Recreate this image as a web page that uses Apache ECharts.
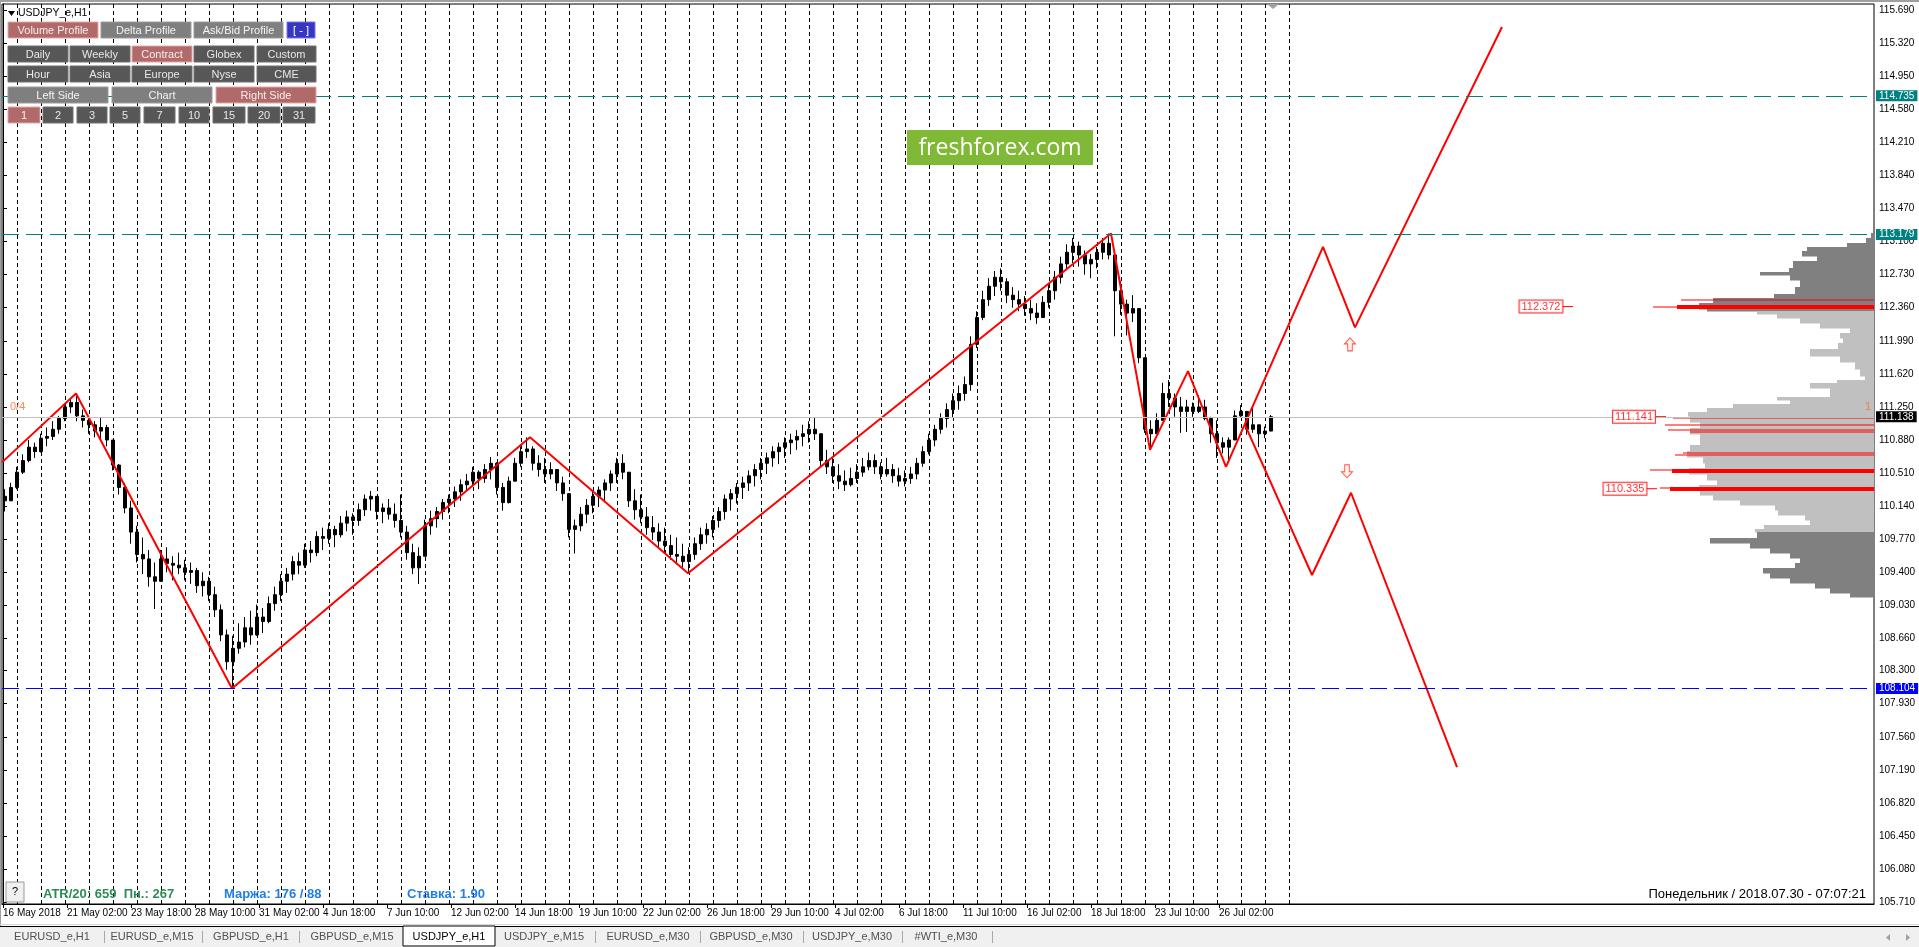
<!DOCTYPE html>
<html><head><meta charset="utf-8">
<script src="https://cdn.jsdelivr.net/npm/echarts@6/dist/echarts.min.js"></script>
<style>html,body{margin:0;padding:0;background:#fff;overflow:hidden}#c{width:1919px;height:947px}</style>
</head><body><div id="c"></div><script>
// ---------- DATA (USDJPY_e, H1, candles grouped by 6 bars) ----------
const firstOpen = 110.25;
const candleHigh = [
110.33,110.40,110.58,110.72,110.88,110.85,110.95,111.02,111.09,111.15,
111.29,111.35,111.40,111.22,111.15,111.09,111.13,111.05,110.88,110.61,
110.40,110.20,109.92,109.79,109.65,109.51,109.65,109.68,109.58,109.62,
109.54,109.51,109.45,109.40,109.35,109.24,109.04,108.76,108.69,108.83,
108.90,108.97,109.04,109.00,109.13,109.24,109.38,109.45,109.58,109.62,
109.72,109.75,109.86,109.90,109.95,109.92,110.03,110.09,110.06,110.17,
110.27,110.31,110.20,110.17,110.22,110.17,110.27,109.92,109.72,109.68,
109.99,110.09,110.13,110.22,110.27,110.36,110.44,110.50,110.58,110.54,
110.61,110.69,110.63,110.40,110.47,110.68,110.81,110.91,110.81,110.71,
110.68,110.63,110.54,110.47,110.27,109.99,110.13,110.22,110.31,110.36,
110.44,110.54,110.68,110.72,110.47,110.33,110.27,110.13,110.03,109.95,
109.90,109.82,109.79,109.72,109.68,109.79,109.90,109.95,110.03,110.13,
110.27,110.33,110.40,110.47,110.54,110.61,110.68,110.74,110.81,110.85,
110.91,110.95,110.99,111.05,111.09,111.13,110.88,110.77,110.68,110.61,
110.54,110.57,110.61,110.68,110.74,110.72,110.63,110.68,110.61,110.57,
110.54,110.58,110.68,110.81,110.95,111.05,111.18,111.29,111.40,111.49,
111.59,112.04,112.32,112.55,112.69,112.77,112.80,112.69,112.59,112.55,
112.49,112.45,112.41,112.49,112.63,112.77,112.93,113.07,113.14,113.10,
113.00,112.96,113.04,113.14,113.19,112.93,112.66,112.45,112.50,112.30,
111.80,111.10,111.18,111.52,111.55,111.40,111.36,111.33,111.30,111.38,
111.33,111.14,111.10,110.91,110.91,111.21,111.27,111.16,111.24,111.05,
111.03,111.16];
const candleLow = [
110.08,110.20,110.33,110.50,110.63,110.68,110.74,110.81,110.88,110.95,
111.09,111.18,111.09,111.02,110.95,110.91,110.88,110.81,110.54,110.27,
110.06,109.72,109.51,109.38,109.24,108.99,109.38,109.40,109.31,109.38,
109.31,109.27,109.17,109.13,109.08,108.90,108.63,108.31,108.10,108.49,
108.56,108.59,108.69,108.72,108.83,108.97,109.08,109.17,109.31,109.38,
109.45,109.51,109.58,109.65,109.72,109.68,109.79,109.86,109.82,109.92,
110.03,110.09,109.99,109.95,109.99,109.90,109.79,109.54,109.38,109.27,
109.65,109.82,109.90,109.99,110.06,110.13,110.20,110.31,110.36,110.33,
110.40,110.44,110.27,110.09,110.17,110.44,110.58,110.68,110.54,110.47,
110.40,110.44,110.31,110.20,109.79,109.61,109.86,109.95,110.06,110.13,
110.20,110.31,110.40,110.44,110.13,109.99,109.95,109.82,109.76,109.68,
109.62,109.54,109.49,109.45,109.39,109.54,109.65,109.72,109.79,109.90,
109.99,110.09,110.17,110.22,110.31,110.36,110.44,110.50,110.58,110.61,
110.68,110.72,110.77,110.81,110.85,110.88,110.58,110.50,110.40,110.33,
110.31,110.36,110.40,110.47,110.54,110.50,110.44,110.47,110.40,110.36,
110.36,110.39,110.44,110.58,110.72,110.81,110.95,111.02,111.13,111.22,
111.32,111.43,111.91,112.22,112.38,112.49,112.55,112.41,112.36,112.32,
112.27,112.22,112.18,112.25,112.36,112.45,112.63,112.80,112.86,112.82,
112.73,112.69,112.80,112.90,112.90,112.04,112.28,112.05,112.20,111.74,
110.96,110.77,110.99,111.10,111.25,111.14,110.96,110.97,111.14,111.18,
111.10,110.85,110.68,110.73,110.63,110.88,111.14,110.94,110.96,110.80,
110.90,110.99];
const candleClose = [
110.20,110.35,110.52,110.65,110.80,110.75,110.90,110.92,111.00,111.12,
111.25,111.30,111.15,111.10,111.05,110.98,111.02,110.88,110.60,110.35,
110.12,109.85,109.60,109.55,109.35,109.30,109.55,109.50,109.48,109.45,
109.40,109.42,109.25,109.30,109.15,108.98,108.70,108.40,108.55,108.62,
108.78,108.70,108.90,108.85,109.05,109.15,109.30,109.38,109.52,109.48,
109.65,109.62,109.80,109.78,109.88,109.82,109.95,110.02,109.98,110.10,
110.22,110.25,110.08,110.12,110.05,109.98,109.85,109.62,109.45,109.58,
109.92,110.00,110.08,110.18,110.22,110.30,110.38,110.42,110.52,110.45,
110.55,110.62,110.35,110.18,110.42,110.62,110.75,110.78,110.62,110.55,
110.50,110.55,110.40,110.28,109.88,109.92,110.05,110.15,110.25,110.32,
110.40,110.50,110.62,110.52,110.20,110.10,110.02,109.90,109.85,109.75,
109.70,109.60,109.58,109.52,109.60,109.72,109.82,109.88,109.98,110.08,
110.22,110.28,110.35,110.40,110.48,110.55,110.62,110.68,110.75,110.80,
110.85,110.88,110.92,110.95,111.00,110.95,110.65,110.58,110.48,110.42,
110.38,110.45,110.52,110.58,110.65,110.58,110.50,110.55,110.48,110.42,
110.45,110.50,110.62,110.75,110.88,111.00,111.12,111.22,111.32,111.40,
111.50,111.95,112.25,112.45,112.60,112.70,112.65,112.50,112.45,112.40,
112.35,112.30,112.25,112.42,112.55,112.70,112.85,112.98,113.05,112.95,
112.85,112.90,112.98,113.08,112.95,112.55,112.40,112.30,112.35,111.80,
111.00,110.95,111.10,111.40,111.35,111.25,111.20,111.25,111.20,111.25,
111.12,110.95,110.85,110.80,110.88,111.15,111.20,111.00,111.05,110.95,
110.98,111.14];

const zigzagBars   = [-1, 73, 229, 527, 685, 1108, 1147, 1185, 1223];
const zigzagPrices = [110.63, 111.40, 108.10, 110.91, 109.39, 113.19, 110.77, 111.65, 110.58];
const projUpBars   = [1223, 1320, 1352, 1499];
const projUpPrices = [110.58, 113.04, 112.14, 115.50];
const projDownBars   = [1242, 1309, 1348, 1454];
const projDownPrices = [111.05, 109.37, 110.29, 107.22];
const arrowUp   = [[1347, 111.95]];
const arrowDown = [[1344, 110.53]];

const dayStartBars = [14,38,62,86,110,134,158,182,206,230,254,278,302,326,350,374,398,422,446,470,
494,518,542,566,590,614,638,662,686,710,734,758,782,806,830,854,878,902,926,950,974,998,1022,1046,
1070,1094,1118,1142,1166,1190,1214,1238,1262,1286];

const xLabelBars = [0,64,128,192,256,320,384,448,512,576,640,704,768,832,896,960,1024,1088,1152,1216];
const xLabels = ["16 May 2018","21 May 02:00","23 May 18:00","28 May 10:00","31 May 02:00","4 Jun 18:00",
"7 Jun 10:00","12 Jun 02:00","14 Jun 18:00","19 Jun 10:00","22 Jun 02:00","26 Jun 18:00","29 Jun 10:00",
"4 Jul 02:00","6 Jul 18:00","11 Jul 10:00","16 Jul 02:00","18 Jul 18:00","23 Jul 10:00","26 Jul 02:00"];
const yTicks = [115.69,115.32,114.95,114.58,114.21,113.84,113.47,113.10,112.73,112.36,111.99,111.62,
111.25,110.88,110.51,110.14,109.77,109.40,109.03,108.66,108.30,107.93,107.56,107.19,106.82,106.45,106.08,105.71];

const levelHigh1 = 114.735, levelHigh2 = 113.179, levelLow = 108.104, bidPrice = 111.138;

// volume profile: row boundaries (prices) and row volumes
const profileLevels = [113.196,113.140,113.084,113.039,112.994,112.938,112.882,112.804,112.759,112.726,
112.670,112.592,112.513,112.469,112.413,112.346,112.323,112.290,112.245,112.189,112.133,112.077,112.021,
111.965,111.898,111.820,111.753,111.674,111.596,111.551,111.518,111.462,111.406,111.361,111.328,111.283,
111.238,111.193,111.149,111.082,111.014,110.947,110.880,110.824,110.757,110.690,110.623,110.567,110.500,
110.433,110.377,110.321,110.265,110.209,110.153,110.097,110.041,109.985,109.929,109.885,109.851,109.784,
109.728,109.672,109.616,109.560,109.504,109.448,109.392,109.337,109.281,109.225,109.169,109.124];
const profileVolumes = [3,8,27,67,72,57,81,85,114,84,74,79,100,161,175,167,117,97,74,54,24,34,31,36,64,
34,19,14,9,37,64,44,44,97,84,141,167,186,184,174,184,174,174,184,187,171,169,185,167,157,175,174,161,
134,99,96,69,64,110,119,117,164,124,104,84,74,79,111,104,84,59,44,24];
const valueAreaHigh = 112.33, valueAreaLow = 109.85;
const hvnThinPrices  = [112.446,112.372,111.126,111.048,110.992,110.970,110.735,110.710,110.540,110.345];
const hvnThinVolumes = [193,221,201,209,206,184,191,199,224,214];
const hvnThickPrices  = [112.372,110.530,110.335];
const hvnThickVolumes = [197,202,204];
const profileLabels = [112.372, 111.141, 110.335];

// ---------- CHART ----------
const FONT = '"Liberation Sans", Arial, sans-serif';
const slotCount = 312;
const slotNames = Array.from({length: slotCount}, (_, i) => 'S' + i);
const candles = candleClose.map((c, j) => [j === 0 ? firstOpen : candleClose[j-1], c, candleLow[j], candleHigh[j]]);
const zip = (a, b) => a.map((v, i) => [v, b[i]]);
const profileRows = profileVolumes.map((v, i) => [profileLevels[i], profileLevels[i+1], v]);

const chart = echarts.init(document.getElementById('c'), null, {renderer: 'canvas'});

function hvnRender(h) {
  return function(params, api) {
    const p = api.value(0), w = api.value(1);
    const a = api.coord([0, p]), b = api.coord([w, p]);
    return {type: 'rect', shape: {x: b[0], y: Math.round(a[1]) - h / 2, width: a[0] - b[0], height: h},
            style: {fill: '#ff0000'}};
  };
}

function btn(x, y, w, h, text, kind) {
  const st = {
    red:  {fill: '#b06a6a', stroke: '#e6a6a6', text: '#fbecec'},
    gray: {fill: '#7f7f7f', stroke: '#9c9c9c', text: '#f4f4f4'},
    dark: {fill: '#575757', stroke: '#707070', text: '#e8e8e8'},
    blue: {fill: '#3636c2', stroke: '#7474ff', text: '#ffffff'}
  }[kind];
  return [
    {type: 'rect', z: 100, shape: {x: x, y: y, width: w, height: h}, style: {fill: st.fill, stroke: st.stroke, lineWidth: 1}},
    {type: 'text', z: 101, style: {text: text, x: x + w / 2, y: y + h / 2 + 0.5, fill: st.text, font: '11px ' + FONT,
      textAlign: 'center', textVerticalAlign: 'middle'}}
  ];
}

const g = [];
// window frame
g.push({type: 'rect', z: 90, shape: {x: 0, y: 0, width: 1919, height: 2}, style: {fill: '#a0a0a0'}});
g.push({type: 'rect', z: 90, shape: {x: 0, y: 0, width: 1, height: 927}, style: {fill: '#a0a0a0'}});
g.push({type: 'polygon', z: 90, shape: {points: [[1267, 4], [1279, 4], [1273, 9]]}, style: {fill: '#a0a0a0'}});
// header
g.push({type: 'polygon', z: 100, shape: {points: [[8, 11], [15, 11], [11.5, 16]]}, style: {fill: '#000'}});
g.push({type: 'text', z: 100, style: {text: 'USDJPY_e,H1', x: 18, y: 13.5, fill: '#000', font: '10.5px ' + FONT, textVerticalAlign: 'middle'}});
// buttons
[[8,90,'Volume Profile','red'],[101,90,'Delta Profile','gray'],[194,89,'Ask/Bid Profile','gray'],[287,28,'[ - ]','blue']]
  .forEach(b => g.push(...btn(b[0], 22, b[1], 16, b[2], b[3])));
const colX = [[8,60],[70,60],[132,60],[194,60],[257,59]];
['Daily','Weekly','Contract','Globex','Custom'].forEach((t, i) => g.push(...btn(colX[i][0], 46, colX[i][1], 16, t, t === 'Contract' ? 'red' : 'dark')));
['Hour','Asia','Europe','Nyse','CME'].forEach((t, i) => g.push(...btn(colX[i][0], 66, colX[i][1], 16, t, 'dark')));
[[8,100,'Left Side','gray'],[112,100,'Chart','gray'],[216,100,'Right Side','red']].forEach(b => g.push(...btn(b[0], 87, b[1], 16, b[2], b[3])));
[[8,32,'1'],[43,30,'2'],[77,30,'3'],[110,30,'5'],[144,31,'7'],[179,30,'10'],[213,32,'15'],[248,32,'20'],[283,32,'31']]
  .forEach(b => g.push(...btn(b[0], 107, b[1], 16, b[2], b[2] === '1' ? 'red' : 'dark')));
// logo
g.push({type: 'rect', z: 100, shape: {x: 907, y: 130, width: 186, height: 35}, style: {fill: '#80b935'}});
g.push({type: 'text', z: 101, style: {text: 'freshforex.com', x: 1000, y: 148, fill: '#fff', font: '23px "Open Sans", sans-serif', textAlign: 'center', textVerticalAlign: 'middle'}});
// bottom info texts
g.push({type: 'rect', z: 100, shape: {x: 6, y: 882, width: 18, height: 20}, style: {fill: '#f0f0f0', stroke: '#9a9a9a', lineWidth: 1}});
g.push({type: 'text', z: 101, style: {text: '?', x: 15, y: 892, fill: '#000', font: '11px ' + FONT, textAlign: 'center', textVerticalAlign: 'middle'}});
g.push({type: 'text', z: 100, style: {text: 'ATR/20: 659  Пн.: 267', x: 43, y: 894, fill: '#2e8b57', font: 'bold 13px ' + FONT, textVerticalAlign: 'middle'}});
g.push({type: 'text', z: 100, style: {text: 'Маржа: 176 / 88', x: 224, y: 894, fill: '#1f7fe6', font: 'bold 13px ' + FONT, textVerticalAlign: 'middle'}});
g.push({type: 'text', z: 100, style: {text: 'Ставка: 1.90', x: 407, y: 894, fill: '#1f7fe6', font: 'bold 13px ' + FONT, textVerticalAlign: 'middle'}});
g.push({type: 'text', z: 100, style: {text: 'Понедельник / 2018.07.30 - 07:07:21', x: 1866, y: 894, fill: '#000', font: '13px ' + FONT, textAlign: 'right', textVerticalAlign: 'middle'}});
// tab bar
g.push({type: 'rect', z: 90, shape: {x: 0, y: 924, width: 1919, height: 1}, style: {fill: '#d6d6d6'}});
g.push({type: 'rect', z: 90, shape: {x: 0, y: 927, width: 1919, height: 20}, style: {fill: '#f0f0f0'}});
g.push({type: 'rect', z: 91, shape: {x: 0, y: 926, width: 1919, height: 1}, style: {fill: '#000'}});
g.push({type: 'rect', z: 92, shape: {x: 403, y: 926, width: 92, height: 20}, style: {fill: '#fff', stroke: '#000', lineWidth: 1}});
[[52,'EURUSD_e,H1'],[152,'EURUSD_e,M15'],[251,'GBPUSD_e,H1'],[352,'GBPUSD_e,M15'],[449,'USDJPY_e,H1'],
 [544,'USDJPY_e,M15'],[648,'EURUSD_e,M30'],[751,'GBPUSD_e,M30'],[852,'USDJPY_e,M30'],[946,'#WTI_e,M30']]
  .forEach(t => g.push({type: 'text', z: 95, style: {text: t[1], x: t[0], y: 937, fill: t[1] === 'USDJPY_e,H1' ? '#000' : '#505050',
    font: '11px ' + FONT, textAlign: 'center', textVerticalAlign: 'middle'}}));
[104,202,299,595,700,803,902,992].forEach(x => g.push({type: 'rect', z: 95, shape: {x: x, y: 931, width: 1, height: 12}, style: {fill: '#a8a8a8'}}));
g.push({type: 'polygon', z: 95, shape: {points: [[1890, 934], [1890, 941], [1886, 937.5]]}, style: {fill: '#a0a0a0'}});
g.push({type: 'polygon', z: 95, shape: {points: [[1906, 934], [1906, 941], [1910, 937.5]]}, style: {fill: '#a0a0a0'}});

const lvlLabel = (txt, bg) => ({show: true, position: 'end', distance: 2, formatter: txt, color: '#fff', backgroundColor: bg,
  padding: [1, 3, 0, 3], fontSize: 10, fontFamily: FONT});

const option = {
  animation: false,
  backgroundColor: '#fff',
  grid: {left: 2, top: 4, right: 45, bottom: 43, show: true, borderColor: '#000', borderWidth: 1, backgroundColor: '#fff'},
  xAxis: [
    {type: 'category', data: slotNames, show: false, position: 'bottom', boundaryGap: true},
    {type: 'value', min: -1, max: 1871, position: 'bottom',
     axisLine: {show: true, lineStyle: {color: '#000'}},
     axisTick: {show: true, customValues: xLabelBars, length: 4, lineStyle: {color: '#000'}},
     axisLabel: {customValues: xLabelBars, formatter: v => xLabels[xLabelBars.indexOf(v)] || '', align: 'left',
       fontSize: 10, fontFamily: FONT, color: '#000', margin: 4},
     splitLine: {show: false}},
    {type: 'value', min: 0, max: 1872, inverse: true, show: false, position: 'top'}
  ],
  yAxis: [{type: 'value', position: 'right', min: 105.69, max: 115.757,
    axisLine: {show: true, lineStyle: {color: '#000'}},
    axisTick: {show: true, customValues: yTicks, length: 4, lineStyle: {color: '#000'}},
    axisLabel: {customValues: yTicks, formatter: v => Number(v).toFixed(3), fontSize: 10, fontFamily: FONT, color: '#000', margin: 5},
    splitLine: {show: false}}],
  graphic: g,
  series: [
    {type: 'custom', name: 'days', xAxisIndex: 1, yAxisIndex: 0, z: 1, silent: true,
     data: dayStartBars.map(b => [b]), encode: {x: 0},
     renderItem: (params, api) => {
       const p = api.coord([api.value(0), 110]);
       const cs = params.coordSys;
       const x = Math.round(p[0]) + 0.5;
       return {type: 'line', shape: {x1: x, y1: cs.y, x2: x, y2: cs.y + cs.height},
               style: {stroke: '#000', lineWidth: 1, lineDash: [4, 3]}};
     }},
    {type: 'line', name: 'bid', xAxisIndex: 1, yAxisIndex: 0, z: 1, silent: true, symbol: 'none',
     data: [[1269, bidPrice]], lineStyle: {width: 0},
     markLine: {silent: true, symbol: ['none', 'none'], animation: false,
       data: [
         {yAxis: bidPrice, lineStyle: {color: '#c0c0c0', type: 'solid', width: 1}, label: lvlLabel('111.138', '#000')},
         {yAxis: levelHigh1, lineStyle: {color: '#008080', type: [17, 7], width: 1}, label: lvlLabel('114.735', '#008080')},
         {yAxis: levelHigh2, lineStyle: {color: '#008080', type: [17, 7], width: 1}, label: lvlLabel('113.179', '#008080')},
         {yAxis: levelLow, lineStyle: {color: '#0000ff', type: [17, 7], width: 1}, label: lvlLabel('108.104', '#0000ff')}
       ]}},
    {type: 'custom', name: 'profile', xAxisIndex: 2, yAxisIndex: 0, z: 2, silent: true,
     data: profileRows, encode: {x: 2, y: [0, 1]},
     renderItem: (params, api) => {
       const top = api.value(0), bot = api.value(1), w = api.value(2);
       const a = api.coord([0, top]), b = api.coord([w, bot]);
       const mid = (top + bot) / 2;
       const fill = (mid > valueAreaHigh || mid < valueAreaLow) ? '#808080' : '#c0c0c0';
       return {type: 'rect', shape: {x: b[0], y: a[1], width: a[0] - b[0], height: b[1] - a[1] + 0.5}, style: {fill: fill}};
     }},
    {type: 'custom', name: 'hvnThin', xAxisIndex: 2, yAxisIndex: 0, z: 3, silent: true,
     data: zip(hvnThinPrices, hvnThinVolumes), encode: {x: 1, y: 0}, renderItem: hvnRender(1)},
    {type: 'custom', name: 'hvnThick', xAxisIndex: 2, yAxisIndex: 0, z: 3, silent: true,
     data: zip(hvnThickPrices, hvnThickVolumes), encode: {x: 1, y: 0}, renderItem: hvnRender(4)},
    {type: 'candlestick', name: 'USDJPY', xAxisIndex: 0, yAxisIndex: 0, z: 3, data: candles, barWidth: 4,
     itemStyle: {color: '#000', color0: '#000', borderColor: '#000', borderColor0: '#000', borderWidth: 1}},
    {type: 'line', name: 'zigzag', xAxisIndex: 1, yAxisIndex: 0, z: 4, symbol: 'none', silent: true,
     data: zip(zigzagBars, zigzagPrices), lineStyle: {color: '#ff0000', width: 2}},
    {type: 'line', name: 'projUp', xAxisIndex: 1, yAxisIndex: 0, z: 4, symbol: 'none', silent: true,
     data: zip(projUpBars, projUpPrices), lineStyle: {color: '#ff0000', width: 2}},
    {type: 'line', name: 'projDown', xAxisIndex: 1, yAxisIndex: 0, z: 4, symbol: 'none', silent: true,
     data: zip(projDownBars, projDownPrices), lineStyle: {color: '#ff0000', width: 2}},
    {type: 'scatter', name: 'up', xAxisIndex: 1, yAxisIndex: 0, z: 5, silent: true, data: arrowUp,
     symbol: 'path://M6,0 L12,6 L8.5,6 L8.5,13 L3.5,13 L3.5,6 L0,6 Z', symbolSize: [11, 13],
     itemStyle: {color: '#fff0e0', borderColor: '#ff2a2a', borderWidth: 1}},
    {type: 'scatter', name: 'down', xAxisIndex: 1, yAxisIndex: 0, z: 5, silent: true, data: arrowDown,
     symbol: 'path://M3.5,0 L8.5,0 L8.5,7 L12,7 L6,13 L0,7 L3.5,7 Z', symbolSize: [11, 13],
     itemStyle: {color: '#fff0e0', borderColor: '#ff2a2a', borderWidth: 1}},
    {type: 'line', xAxisIndex: 1, yAxisIndex: 0, z: 4, symbol: 'none', silent: true,
     data: [[1559, profileLabels[0]], [1570, profileLabels[0]]], lineStyle: {color: '#ff0000', width: 1}},
    {type: 'line', xAxisIndex: 1, yAxisIndex: 0, z: 4, symbol: 'none', silent: true,
     data: [[1653, profileLabels[1]], [1663, profileLabels[1]]], lineStyle: {color: '#ff0000', width: 1}},
    {type: 'line', xAxisIndex: 1, yAxisIndex: 0, z: 4, symbol: 'none', silent: true,
     data: [[1643, profileLabels[2]], [1654, profileLabels[2]]], lineStyle: {color: '#ff0000', width: 1}},
    {type: 'scatter', name: 'profileLabels', xAxisIndex: 1, yAxisIndex: 0, z: 6, silent: true, symbolSize: 0,
     data: [[1538, profileLabels[0]], [1631, profileLabels[1]], [1622, profileLabels[2]]],
     label: {show: true, position: 'inside', formatter: p => p.value[1].toFixed(3), color: '#ff0000', backgroundColor: '#fff',
       borderColor: '#ff0000', borderWidth: 1, padding: [1, 2, 0, 2], fontSize: 11, fontFamily: FONT}},
    {type: 'scatter', name: 'marks', xAxisIndex: 1, yAxisIndex: 0, z: 6, silent: true, symbolSize: 0,
     data: [[7, 111.25, '0/4'], [1862, 111.25, '1']],
     label: {show: true, position: 'right', distance: 0, formatter: p => p.value[2], color: '#ff6a30', fontSize: 11, fontFamily: FONT}}
  ]
};
chart.setOption(option);
</script></body></html>
